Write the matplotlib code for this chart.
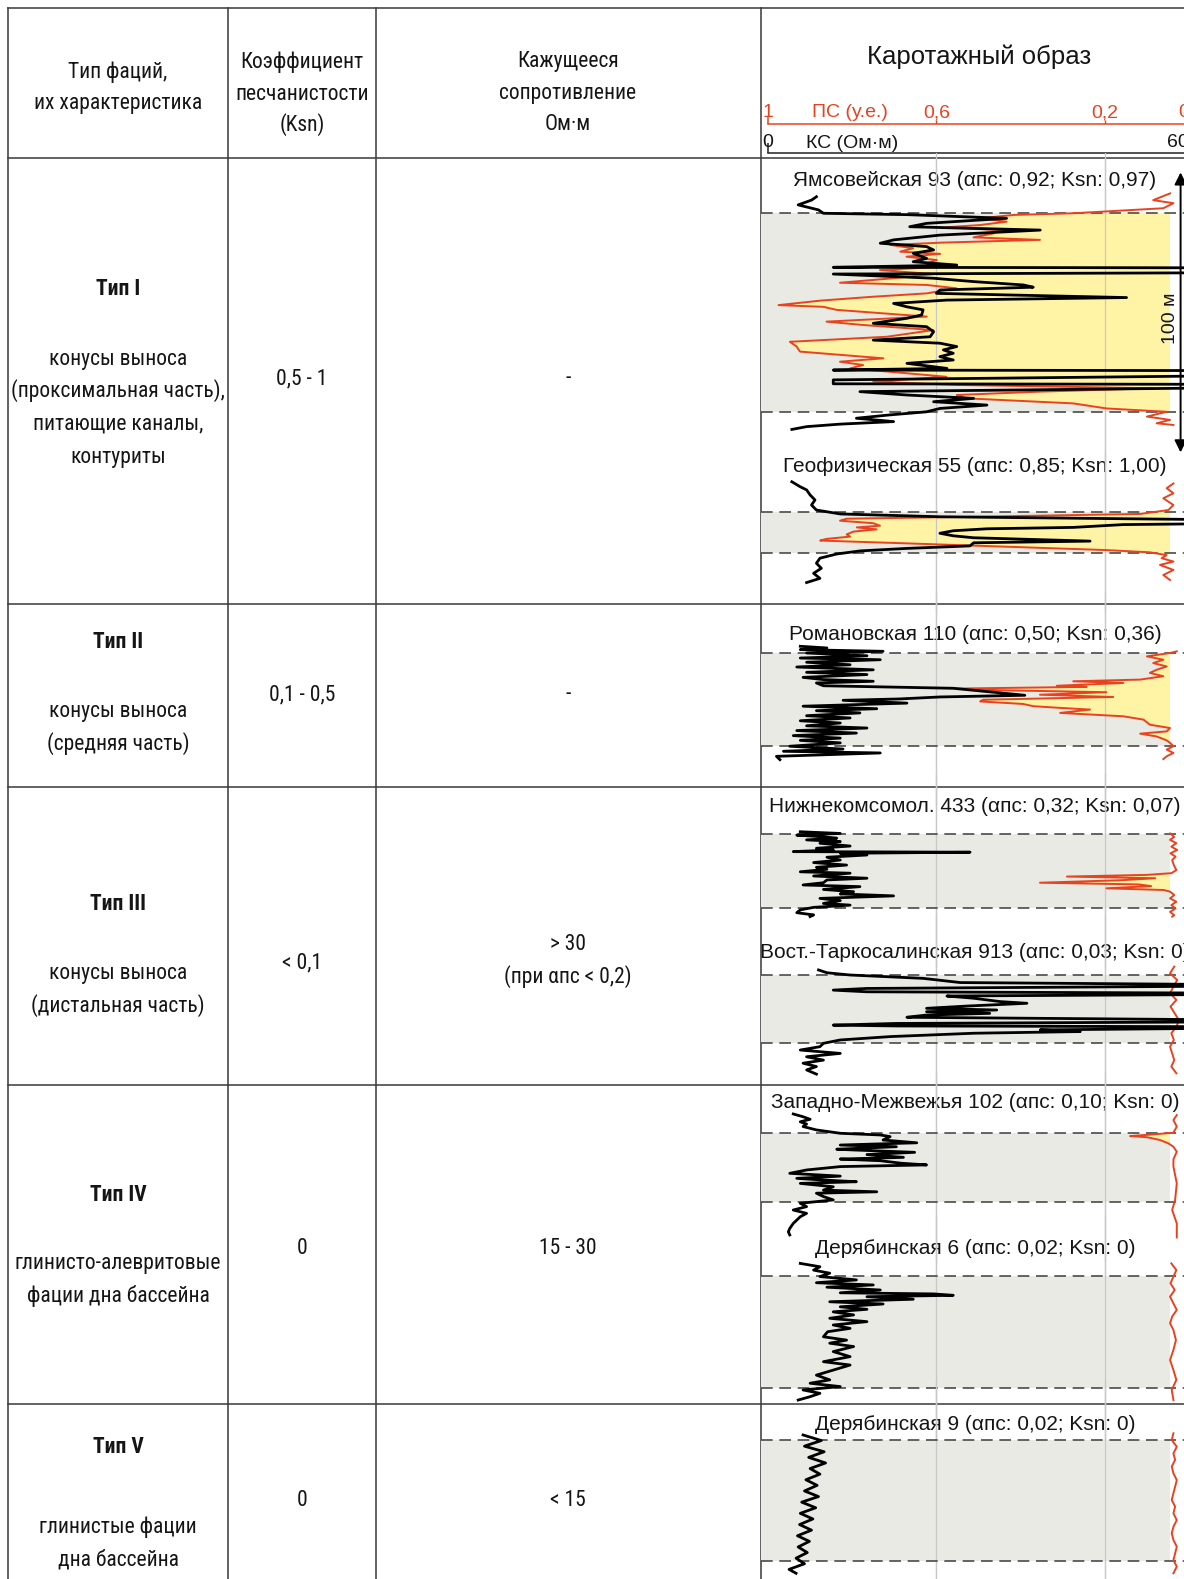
import matplotlib
matplotlib.use("Agg")
import matplotlib.pyplot as plt
from matplotlib import font_manager as fm
from matplotlib.patches import Rectangle
import numpy as np

W, H = 1184, 1579


def pick_narrow_font():
    """Return (family, stretch, size) for the condensed table lettering."""
    entries = fm.fontManager.ttflist
    names = {f.name for f in entries}
    for name in ["Liberation Sans Narrow", "Arial Narrow", "Roboto Condensed", "Open Sans Condensed",
                 "Noto Sans Condensed", "Noto Sans SemiCondensed", "DejaVu Sans Condensed"]:
        if name in names:
            return name, "normal", 15.5
    for f in entries:
        low = f.name.lower()
        if ("narrow" in low or "condensed" in low or "cond" in low) and "mono" not in low and "serif" not in low:
            return f.name, "normal", 15.5
    for f in entries:
        if f.stretch in ("condensed", "semi-condensed", "extra-condensed") and f.name in (
                "DejaVu Sans", "Noto Sans", "Open Sans", "Roboto", "Inter", "Lato"):
            return f.name, f.stretch, 15
    return "Liberation Sans", "normal", 13


NARROW, NARROW_STRETCH, NARROW_SIZE = pick_narrow_font()
SANS = "Liberation Sans"
plt.rcParams["font.family"] = [SANS, "DejaVu Sans"]

# ---------------------------------------------------------------- table text
header_col1 = ["Тип фаций,", "их характеристика"]
header_col2 = ["Коэффициент", "песчанистости", "(Ksn)"]
header_col3 = ["Кажущееся", "сопротивление", "Ом·м"]
header_col4 = "Каротажный образ"

facies_types = ["Тип I", "Тип II", "Тип III", "Тип IV", "Тип V"]
facies_desc = [
    ["конусы выноса", "(проксимальная часть),", "питающие каналы,", "контуриты"],
    ["конусы выноса", "(средняя часть)"],
    ["конусы выноса", "(дистальная часть)"],
    ["глинисто-алевритовые", "фации дна бассейна"],
    ["глинистые фации", "дна бассейна"],
]
ksn_ranges = ["0,5 - 1", "0,1 - 0,5", "< 0,1", "0", "0"]
resistivity = [["-"], ["-"], ["> 30", "(при αпс < 0,2)"], ["15 - 30"], ["< 15"]]

# log scales
ps_ticks = [1.0, 0.6, 0.2, 0.0]
ps_tick_labels = ["1", "0,6", "0,2", "0"]
ks_ticks = [0, 60]
ks_tick_labels = ["0", "60"]

# ---------------------------------------------------------------- well logs
# depth in metres below the top of the facies interval; КС in Ом·м, ПС in у.е.
well_names = [
    "Ямсовейская 93 (αпс: 0,92; Ksn: 0,97)",
    "Геофизическая 55 (αпс: 0,85; Ksn: 1,00)",
    "Романовская 110 (αпс: 0,50; Ksn: 0,36)",
    "Нижнекомсомол. 433 (αпс: 0,32; Ksn: 0,07)",
    "Вост.-Таркосалинская 913 (αпс: 0,03; Ksn: 0)",
    "Западно-Межвежья 102 (αпс: 0,10; Ksn: 0)",
    "Дерябинская 6 (αпс: 0,02; Ksn: 0)",
    "Дерябинская 9 (αпс: 0,02; Ksn: 0)",
]
interval_m = [71.0, 14.5, 33.1, 26.5, 24.2, 24.6, 40.0, 43.2]
scale_bar_m = 100

yam_ks_d = [-5.8, -4.6, -2.9, -1.1, 0.1, 0.6, 1.9, 3.7, 4.9, 5.5, 6.1, 7.9, 9.6, 10.8, 12.0, 13.2, 14.4, 16.2,
            17.4, 18.6, 19.4, 19.6, 21.3, 21.8, 23.3, 24.5, 25.7, 26.5, 27.5, 28.7, 30.2, 31.1, 32.3, 33.5, 34.6,
            36.4, 37.6, 39.4, 40.6, 42.4, 44.2, 45.4, 46.5, 47.7, 48.9, 50.1, 51.3, 52.5, 53.7, 55.5, 56.1, 56.3,
            58.0, 59.0, 59.6, 61.0, 61.2, 62.3, 63.8, 65.0, 66.2, 67.4, 68.6, 69.8, 71.0, 72.1, 73.3, 74.5, 75.4,
            76.3, 77.3]
yam_ks = [6.9, 6.2, 4.3, 7.2, 7.9, 20.0, 34.0, 22.6, 20.2, 29.3, 38.8, 24.5, 17.9, 16.0, 22.6, 23.6, 20.7, 22.6,
          20.7, 26.9, 9.3, 70, 70, 9.3, 23.6, 29.3, 36.4, 37.8, 24.5, 24.0, 51.1, 25.5, 17.9, 19.8, 22.1,
          21.9, 19.8, 15.0, 22.6, 23.6, 23.1, 15.0, 24.5, 26.9, 25.0, 26.4, 24.5, 26.4, 19.8, 25.5, 9.3, 70,
          70, 32.6, 9.3, 9.3, 70, 70, 13.1, 19.8, 29.3, 23.6, 31.2, 24.5, 22.6, 17.4, 12.6, 17.9, 10.3,
          5.5, 3.4]
yam_ps_d = [-7.0, -4.6, -3.5, -1.7, 0.1, 0.7, 1.9, 3.1, 4.3, 5.1, 6.1, 7.3, 8.7, 9.6, 10.6, 11.4, 12.6, 13.8,
            14.6, 15.6, 16.8, 18.0, 18.9, 20.4, 21.8, 23.3, 24.9, 25.7, 26.9, 28.7, 29.9, 31.3, 32.9, 33.5, 34.6,
            37.0, 38.8, 40.0, 41.8, 44.2, 46.0, 47.7, 49.5, 51.9, 53.1, 54.3, 55.5, 56.7, 58.5, 60.2, 61.4, 62.6,
            63.8, 65.0, 66.2, 68.0, 69.8, 71.0, 72.7, 73.9, 75.1, 75.7]
yam_ps = [0.045, 0.085, 0.037, 0.061, 0.275, 0.417, 0.496, 0.433, 0.496, 0.576, 0.449, 0.465, 0.512, 0.354, 0.591,
          0.710, 0.655, 0.686, 0.591, 0.671, 0.599, 0.623, 0.552, 0.734, 0.607, 0.702, 0.829, 0.623, 0.552, 0.623,
          0.750, 0.876, 0.975, 0.869, 0.837, 0.623, 0.861, 0.774, 0.607, 0.718, 0.948, 0.932, 0.924, 0.726, 0.829,
          0.774, 0.805, 0.710, 0.576, 0.750, 0.552, 0.085, 0.354, 0.552, 0.528, 0.275, 0.196, 0.053, 0.100, 0.045,
          0.077, 0.037]

geo_ks_d = [-10.8, -9.0, -7.9, -6.1, -4.3, -2.5, -0.7, 0.7, 1.7, 2.4, 2.9, 4.0, 4.5, 5.5, 6.0, 6.7, 7.6, 8.5,
            9.2, 10.4, 11.0, 12.1, 13.0, 13.9, 15.0, 16.5, 18.3, 20.1, 21.9, 23.7, 25.2]
geo_ks = [3.4, 4.6, 5.5, 6.0, 6.7, 6.2, 6.9, 10.3, 24.5, 50.6, 70, 70, 50.6, 43.5, 31.2, 26.4, 24.5, 26.4,
          29.3, 45.9, 29.3, 28.8, 19.8, 13.1, 9.8, 7.4, 6.9, 7.6, 6.5, 7.4, 5.5]
geo_ps_d = [-10.2, -8.5, -6.7, -4.9, -2.5, -0.7, 0.7, 1.7, 2.4, 3.1, 4.0, 4.9, 5.5, 6.2, 7.0, 8.0, 8.8, 9.6,
            10.2, 11.2, 12.4, 13.6, 14.4, 15.4, 16.5, 17.7, 18.9, 20.7, 22.5, 24.3]
geo_ps = [0.037, 0.053, 0.037, 0.061, 0.037, 0.049, 0.116, 0.512, 0.813, 0.829, 0.750, 0.734, 0.789, 0.742,
          0.797, 0.813, 0.805, 0.861, 0.876, 0.671, 0.433, 0.196, 0.093, 0.053, 0.065, 0.037, 0.069, 0.037,
          0.061, 0.045]

rom_ks_d = [-2.4, -1.8, -1.2, -0.6, 0.0, 1.0, 1.8, 2.4, 3.3, 4.2, 5.0, 6.0, 6.9, 7.7, 8.7, 9.5, 10.1, 10.7,
            11.7, 12.6, 15.1, 15.7, 16.4, 16.9, 17.9, 19.0, 19.9, 20.6, 21.4, 22.4, 23.2, 24.2, 25.0, 26.0,
            26.8, 27.7, 28.6, 29.5, 30.4, 31.2, 32.1, 33.3, 34.3, 35.1, 35.7, 36.9, 38.1]
rom_ks = [4.6, 8.4, 4.6, 16.4, 5.5, 14.1, 4.6, 16.0, 5.5, 11.7, 4.1, 15.0, 5.5, 14.1, 5.0, 7.9, 15.0, 6.9,
          7.9, 26.4, 36.6, 24.5, 18.8, 10.7, 19.8, 5.0, 15.5, 6.9, 13.1, 5.5, 11.7, 4.6, 10.3, 5.5,
          14.1, 4.1, 12.6, 3.6, 10.3, 4.6, 10.3, 3.1, 10.7, 2.2, 16.0, 1.2, 1.7]
rom_ps_d = [-0.6, 0.0, 1.2, 2.4, 3.6, 4.8, 6.0, 7.1, 8.3, 9.5, 10.1, 10.7, 11.7, 12.1, 12.7, 13.3, 14.0, 14.9,
            15.7, 16.7, 17.3, 18.2, 19.0, 19.6, 20.2, 21.4, 22.6, 23.8, 25.6, 26.8, 28.0, 28.8, 29.8, 31.2,
            32.1, 33.3, 34.5, 35.7, 36.9, 37.9]
rom_ps = [0.029, 0.045, 0.100, 0.061, 0.085, 0.053, 0.077, 0.093, 0.061, 0.116, 0.275, 0.156, 0.314, 0.243,
          0.552, 0.449, 0.196, 0.354, 0.180, 0.489, 0.496, 0.394, 0.370, 0.306, 0.235, 0.306, 0.156, 0.108,
          0.093, 0.045, 0.053, 0.116, 0.077, 0.053, 0.045, 0.037, 0.053, 0.037, 0.053, 0.061]

nkm_ks_d = [-0.8, -0.2, 0.4, 1.0, 1.5, 2.1, 2.7, 3.3, 4.3, 5.1, 5.7, 6.3, 6.5, 6.9, 7.5, 8.3, 9.3, 10.2, 11.1,
            11.9, 12.6, 13.5, 14.0, 15.0, 15.8, 16.4, 17.4, 18.2, 18.8, 19.8, 20.6, 21.4, 22.1, 23.0, 23.8,
            24.8, 25.4, 26.2, 27.1, 28.1, 28.9, 29.5]
nkm_ks = [4.6, 10.3, 4.1, 7.9, 9.8, 5.5, 10.3, 7.4, 11.7, 6.9, 9.3, 3.6, 28.8, 10.3, 14.1, 8.4, 10.3, 6.5, 11.2,
          6.9, 8.4, 4.6, 11.7, 6.5, 14.1, 8.4, 7.9, 5.0, 13.1, 7.9, 12.2, 10.3, 17.9, 7.4, 10.3,
          7.9, 11.7, 6.5, 4.6, 4.1, 6.5, 6.0]
nkm_ps_d = [-0.2, 1.0, 2.1, 3.3, 4.5, 5.7, 6.9, 8.1, 9.3, 11.1, 12.9, 14.0, 14.6, 15.2, 15.8, 16.5, 17.4, 18.0,
            18.6, 19.4, 20.0, 20.6, 21.8, 23.0, 24.2, 25.4, 26.6, 27.8, 29.0, 29.5]
nkm_ps = [0.045, 0.035, 0.045, 0.030, 0.042, 0.028, 0.044, 0.032, 0.040, 0.036, 0.030, 0.042, 0.100, 0.290,
          0.080, 0.160, 0.354, 0.120, 0.090, 0.196, 0.060, 0.045, 0.035, 0.045, 0.030, 0.042, 0.032, 0.045,
          0.035, 0.040]

vtk_ks_d = [-1.8, -0.8, 0.0, 1.2, 2.7, 3.5, 3.9, 4.8, 5.4, 6.0, 6.5, 6.9, 7.5, 8.3, 9.5, 10.1, 11.1, 11.9,
            12.5, 13.1, 13.7, 14.3, 15.1, 16.1, 16.7, 17.3, 17.9, 18.2, 18.5, 18.9, 19.6, 20.2, 20.8, 22.0,
            23.2, 24.4, 25.6, 26.8, 28.0, 29.2, 30.4, 31.5, 32.7, 33.9, 35.4]
vtk_ks = [7.2, 8.4, 11.7, 22.1, 27.4, 70, 70, 14.1, 9.3, 14.1, 70, 70, 25.5, 29.3, 33.1, 36.9, 28.3, 22.6,
          32.6, 22.6, 31.6, 22.6, 19.8, 70, 70, 18.3, 9.3, 18.3, 70, 70, 38.8, 44.5, 29.3, 17.4,
          10.3, 7.9, 7.4, 4.6, 10.3, 5.5, 7.9, 5.0, 6.9, 5.5, 6.9]
vtk_ps_d = [-3.0, -0.6, 1.8, 4.2, 6.5, 8.9, 11.3, 13.7, 16.1, 18.5, 20.8, 23.2, 25.6, 28.0, 30.4, 32.7, 35.1]
vtk_ps = [0.035, 0.045, 0.028, 0.037, 0.045, 0.030, 0.044, 0.034, 0.024, 0.030, 0.042, 0.036, 0.045, 0.040,
          0.035, 0.042, 0.030]

zmz_ks_d = [-6.8, -5.8, -4.9, -4.0, -3.2, -2.3, -1.1, 0.1, 0.7, 1.3, 2.5, 3.5, 4.3, 4.9, 5.8, 6.1, 6.9, 7.7,
            8.7, 9.3, 9.9, 10.8, 11.4, 12.0, 13.2, 14.4, 15.4, 16.2, 16.8, 17.4, 18.0, 19.2, 20.4, 21.0,
            21.5, 22.7, 23.9, 25.1, 26.3, 27.5, 28.7, 29.9, 31.1, 32.3, 34.1, 35.3, 36.4]
zmz_ks = [3.6, 5.0, 6.0, 4.6, 5.5, 5.0, 6.9, 10.3, 16.0, 17.4, 16.4, 21.2, 10.3, 18.3, 9.8, 12.6, 20.9, 14.1,
          19.3, 10.3, 16.0, 19.0, 22.6, 10.3, 5.5, 3.1, 10.3, 4.1, 7.9, 12.6, 4.6, 9.3, 7.9, 15.5,
          6.9, 7.9, 9.3, 4.6, 5.5, 3.6, 5.5, 4.6, 4.1, 3.6, 3.1, 2.9, 3.1]
zmz_ps_d = [-6.4, -4.6, -2.3, -0.1, 0.6, 1.1, 1.5, 2.5, 3.7, 4.9, 6.7, 9.4, 12.0, 18.0, 23.9, 27.5, 32.3, 37.3]
zmz_ps = [0.029, 0.037, 0.029, 0.037, 0.093, 0.140, 0.100, 0.069, 0.049, 0.037, 0.029, 0.037, 0.037, 0.029,
          0.033, 0.040, 0.029, 0.029]

dr6_ks_d = [-4.5, -3.3, -2.1, -1.0, 0.2, 1.4, 2.4, 3.2, 4.0, 5.0, 6.0, 6.4, 6.9, 7.4, 8.3, 9.2, 10.0, 11.0,
            11.9, 12.8, 13.9, 15.1, 16.3, 17.5, 18.7, 19.9, 21.7, 22.9, 24.0, 25.2, 27.0, 28.8, 30.6, 31.8,
            33.6, 35.4, 37.1, 38.3, 39.5, 40.7, 41.9, 43.1, 44.3]
dr6_ks = [4.6, 7.4, 6.5, 8.8, 7.4, 12.6, 6.9, 15.0, 8.4, 16.0, 10.3, 23.6, 26.4, 14.1, 20.7, 8.8, 16.4, 10.3,
          14.1, 9.3, 12.2, 8.8, 14.1, 9.3, 11.7, 8.5, 7.9, 11.2, 8.8, 12.2, 9.3, 11.7, 7.9, 11.7,
          9.3, 6.9, 8.8, 6.0, 10.3, 5.0, 7.4, 6.0, 4.3]
dr6_ps_d = [-4.5, -2.1, 0.2, 2.6, 5.0, 7.4, 9.8, 12.1, 14.5, 16.9, 19.3, 22.9, 26.4, 30.0, 33.6, 37.1, 40.7, 44.3]
dr6_ps = [0.042, 0.030, 0.037, 0.044, 0.034, 0.045, 0.037, 0.029, 0.040, 0.045, 0.037, 0.031, 0.037, 0.045,
          0.037, 0.030, 0.041, 0.037]

dr9_ks_d = [-1.8, 0.2, 2.2, 4.2, 6.2, 8.2, 10.2, 12.2, 14.2, 16.2, 18.2, 20.2, 22.2, 24.2, 26.2, 28.2, 30.2,
            32.2, 34.2, 36.2, 38.2, 40.2, 42.2, 44.2, 46.2, 47.6]
dr9_ks = [5.0, 7.6, 5.2, 8.0, 5.8, 8.2, 6.0, 7.4, 5.4, 7.0, 5.2, 7.2, 4.8, 6.8, 4.6, 6.4, 4.5, 6.2, 4.2, 5.9,
          4.3, 5.6, 4.0, 5.2, 3.0, 4.0]
dr9_ps_d = [-2.4, 0.0, 2.4, 4.8, 7.1, 9.5, 11.9, 14.3, 16.7, 19.0, 21.4, 23.8, 26.2, 28.6, 31.0, 33.3, 35.7,
            38.1, 40.5, 42.9, 45.2, 47.6]
dr9_ps = [0.037, 0.041, 0.029, 0.037, 0.033, 0.041, 0.037, 0.029, 0.033, 0.037, 0.041, 0.033, 0.037, 0.029,
          0.037, 0.041, 0.037, 0.029, 0.033, 0.037, 0.029, 0.037]

ks_logs = [(yam_ks_d, yam_ks), (geo_ks_d, geo_ks), (rom_ks_d, rom_ks), (nkm_ks_d, nkm_ks),
           (vtk_ks_d, vtk_ks), (zmz_ks_d, zmz_ks), (dr6_ks_d, dr6_ks), (dr9_ks_d, dr9_ks)]
ps_logs = [(yam_ps_d, yam_ps), (geo_ps_d, geo_ps), (rom_ps_d, rom_ps), (nkm_ps_d, nkm_ps),
           (vtk_ps_d, vtk_ps), (zmz_ps_d, zmz_ps), (dr6_ps_d, dr6_ps), (dr9_ps_d, dr9_ps)]

# ---------------------------------------------------------------- layout (pixels)
ROW_LINES = [158, 604, 787, 1085, 1404]
COL_LINES = [8, 228, 376, 761]
TOP_LINE = 8
col_centers = [118, 302, 568]

header1_y = [72, 104]
header23_y = [62, 94, 125]
type_y = [289, 642, 904, 1195, 1447]
desc_y = [[359, 391, 424, 457], [712, 744], [974, 1006], [1264, 1296], [1527, 1560]]
ksn_y = [379, 695, 963, 1249, 1500]
res_y = [[379], [695], [945, 977], [1249], [1500]]

LOG_X0, PS1_X, LOG_X1 = 761, 768, 1189          # column edge, ПС=1 / КС=0, ПС=0 / КС=60
PS_LEFT = 1 + (PS1_X - LOG_X0) / (LOG_X1 - PS1_X)
KS_LEFT = -60 * (PS1_X - LOG_X0) / (LOG_X1 - PS1_X)
BAND_EDGE = 0.045                                # right edge of the shaded interval (ПС units)
PX_PER_M = 2.8
well_top_px = [213, 512, 653, 834, 975, 1133, 1276, 1440]
well_label_y = [180, 467, 635, 807, 953, 1103, 1248, 1424]
LABEL_X = 975

LINE = "#383838"
GRAY = "#e9eae4"
YELLOW = "#fff4a6"
RED = "#e8421f"
GRID = "#c8c8c8"
DASH = "#4a4a4a"
INK = "#151515"

fig = plt.figure(figsize=(W / 100, H / 100), dpi=100)
fig.patch.set_facecolor("white")


def box(x0, y0, x1, y1):
    return [x0 / W, 1 - y1 / H, (x1 - x0) / W, (y1 - y0) / H]


# ---------------------------------------------------------------- table grid and text
bg = fig.add_axes([0, 0, 1, 1])
bg.set_xlim(0, W)
bg.set_ylim(H, 0)
bg.axis("off")

bg.plot([COL_LINES[0], W], [TOP_LINE, TOP_LINE], color=LINE, lw=1.1)
for y in ROW_LINES:
    bg.plot([COL_LINES[0], W], [y, y], color=LINE, lw=1.1)
for x in COL_LINES:
    bg.plot([x, x], [TOP_LINE, H], color=LINE, lw=1.1)

tkw = dict(ha="center", va="center", family=[NARROW, "DejaVu Sans"], fontstretch=NARROW_STRETCH,
           fontsize=NARROW_SIZE, color=INK)
for s, y in zip(header_col1, header1_y):
    bg.text(col_centers[0], y, s, **tkw)
for s, y in zip(header_col2, header23_y):
    bg.text(col_centers[1], y, s, **tkw)
for s, y in zip(header_col3, header23_y):
    bg.text(col_centers[2], y, s, **tkw)
bg.text((LOG_X0 + LOG_X1) / 2 + 4, 57, header_col4, ha="center", va="center", fontsize=18.5, color=INK)

for i in range(5):
    bg.text(col_centers[0], type_y[i], facies_types[i], fontweight="bold", **tkw)
    for s, y in zip(facies_desc[i], desc_y[i]):
        bg.text(col_centers[0], y, s, **tkw)
    bg.text(col_centers[1], ksn_y[i], ksn_ranges[i], **tkw)
    for s, y in zip(resistivity[i], res_y[i]):
        bg.text(col_centers[2], y, s, **tkw)

# ---------------------------------------------------------------- scale headers
hps = fig.add_axes(box(LOG_X0, 104, LOG_X1, 124))
hps.set_xlim(PS_LEFT, 0)
hps.set_ylim(0, 20)
hps.axis("off")
hps.plot([1.0, -0.1], [0, 0], color=RED, lw=1.1, clip_on=False)
hps.vlines([ps_ticks[0]], 0, 8, color=RED, lw=1.1)
hps.vlines(ps_ticks[1:3], 0, 4, color=RED, lw=1.0)
for v, s, ha in zip(ps_ticks, ps_tick_labels, ["center", "center", "center", "right"]):
    hps.text(v, 7, s, ha=ha, va="baseline", color=RED, fontsize=14, clip_on=False)
bg.text(850, 117, "ПС (у.е.)", ha="center", va="baseline", color=RED, fontsize=14)

hks = fig.add_axes(box(LOG_X0, 132, LOG_X1, 153))
hks.set_xlim(KS_LEFT, 60)
hks.set_ylim(0, 21)
hks.axis("off")
hks.plot([0, 80], [0, 0], color="#222222", lw=1.1, clip_on=False)
hks.vlines([ks_ticks[0]], 0, 10, color="#222222", lw=1.1)
for v, s, ha in zip(ks_ticks, ks_tick_labels, ["center", "right"]):
    hks.text(v, 6, s, ha=ha, va="baseline", color=INK, fontsize=14, clip_on=False)
bg.text(852, 148, "КС (Ом·м)", ha="center", va="baseline", color=INK, fontsize=14)

# full-height reference lines of the log column
col = fig.add_axes(box(LOG_X0, ROW_LINES[0], LOG_X1, H))
col.set_xlim(PS_LEFT, 0)
col.set_ylim(0, 1)
col.axis("off")
for v in ps_ticks[1:3]:
    col.axvline(v, color=GRID, lw=0.9)

# ---------------------------------------------------------------- well panels
MARGIN_PX = 60
for i in range(len(well_names)):
    top = well_top_px[i]
    L = interval_m[i]
    ax = fig.add_axes(box(LOG_X0, top - MARGIN_PX, LOG_X1, top + L * PX_PER_M + MARGIN_PX))
    ax.set_xlim(PS_LEFT, 0)
    ax.set_ylim(L + MARGIN_PX / PX_PER_M, -MARGIN_PX / PX_PER_M)
    ax.axis("off")
    ax.patch.set_visible(False)

    band = Rectangle((BAND_EDGE, 0), PS_LEFT - BAND_EDGE, L, facecolor=GRAY, edgecolor="none", zorder=0)
    ax.add_patch(band)

    d_ps = np.asarray(ps_logs[i][0])
    v_ps = np.asarray(ps_logs[i][1])
    fill = ax.fill_betweenx(d_ps, v_ps, BAND_EDGE, where=v_ps > BAND_EDGE, interpolate=True,
                            facecolor=YELLOW, edgecolor="none", zorder=1)
    fill.set_clip_path(band)

    for v in ps_ticks[1:3]:
        ax.axvline(v, color=GRID, lw=0.9, zorder=2)
    ax.hlines([0, L], PS_LEFT, -0.1, colors=DASH, linestyles=(0, (7, 4)), lw=1.2, zorder=3)
    ax.plot(v_ps, d_ps, color=RED, lw=1.4, zorder=4, solid_joinstyle="round")

    ax2 = ax.twiny()
    ax2.set_xlim(KS_LEFT, 60)
    ax2.axis("off")
    ax2.patch.set_visible(False)
    ax2.plot(ks_logs[i][1], ks_logs[i][0], color="black", lw=2.0, zorder=5, solid_joinstyle="round")

    if i == 0:
        bar_top = -14.5
        ax.annotate("", xy=(0.02, bar_top), xytext=(0.02, bar_top + scale_bar_m),
                    arrowprops=dict(arrowstyle="<|-|>", color="black", lw=1.4, mutation_scale=18,
                                    shrinkA=0, shrinkB=0), annotation_clip=False, zorder=6)
        ax.text(0.045, bar_top + scale_bar_m / 2 + 2, f"{scale_bar_m} м", rotation=90, ha="center",
                va="center", fontsize=14, color=INK, zorder=6)

    bg.text(LABEL_X, well_label_y[i], well_names[i], ha="center", va="center", fontsize=15, color=INK)

fig.savefig("out.png", dpi=100, facecolor="white")
